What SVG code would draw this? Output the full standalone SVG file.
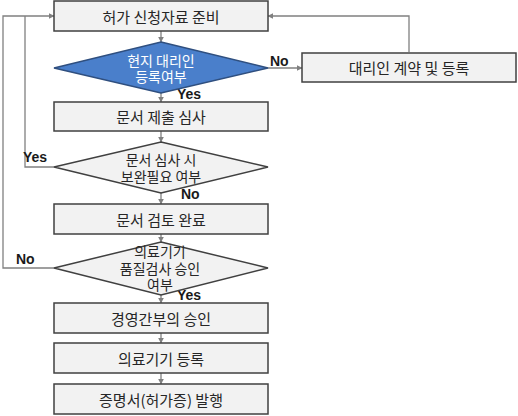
<svg xmlns="http://www.w3.org/2000/svg" width="518" height="416" viewBox="0 0 518 416">
<style>
.box{fill:#f2f2f2;stroke:#404040;stroke-width:1.5}
.dia{fill:#f2f2f2;stroke:#404040;stroke-width:1.5}
.blue{fill:#4a7fcb;stroke:#2f4f7f;stroke-width:1.5}
.t{font-family:"Noto Sans CJK KR","Noto Sans",sans-serif;font-size:15px;fill:#262626;text-anchor:middle;dominant-baseline:central}
.d{font-size:14px}
.tw{fill:#ffffff}
.lbl{font-family:"Liberation Sans",Arial,sans-serif;font-size:14px;font-weight:bold;fill:#1a1a1a}
.c{fill:none;stroke:#808080;stroke-width:1.3}
</style>
<defs>
<marker id="ah" viewBox="0 0 10 10" refX="9" refY="5" markerWidth="6" markerHeight="6" orient="auto" markerUnits="userSpaceOnUse">
<path d="M0,0 L10,5 L0,10 z" fill="#808080"/>
</marker>
</defs>
<g id="connectors">
<path class="c" d="M161,31 V42" marker-end="url(#ah)"/>
<path class="c" d="M161,93 V102" marker-end="url(#ah)"/>
<path class="c" d="M268,68 H302" marker-end="url(#ah)"/>
<path class="c" d="M409,52 V16 H268" marker-end="url(#ah)"/>
<path class="c" d="M161,131 V142" marker-end="url(#ah)"/>
<path class="c" d="M54,167 H25 V16"/>
<path class="c" d="M54,268 H3 V16 H54" marker-end="url(#ah)"/>
<path class="c" d="M161,193 V204" marker-end="url(#ah)"/>
<path class="c" d="M161,234 V242" marker-end="url(#ah)"/>
<path class="c" d="M161,295 V303" marker-end="url(#ah)"/>
<path class="c" d="M161,333 V343" marker-end="url(#ah)"/>
<path class="c" d="M161,373 V384" marker-end="url(#ah)"/>
<text class="lbl" x="270" y="66">No</text>
<text class="lbl" x="177" y="99">Yes</text>
<text class="lbl" x="23" y="162">Yes</text>
<text class="lbl" x="181" y="199">No</text>
<text class="lbl" x="16" y="264">No</text>
<text class="lbl" x="177" y="300">Yes</text>
</g>
<g id="n1"><rect class="box" x="54" y="1" width="214" height="30"/><text class="t" x="161" y="16">허가 신청자료 준비</text></g>
<g id="n2"><polygon class="blue" points="161,42 268,68 161,93 54,68"/><text class="t d tw" x="161" y="60">현지 대리인</text><text class="t d tw" x="161" y="76">등록여부</text></g>
<g id="n3"><rect class="box" x="302" y="53" width="214" height="29"/><text class="t" x="409" y="67">대리인 계약 및 등록</text></g>
<g id="n4"><rect class="box" x="54" y="102" width="214" height="29"/><text class="t" x="161" y="116">문서 제출 심사</text></g>
<g id="n5"><polygon class="dia" points="161,142 268,167 161,193 54,167"/><text class="t d" x="161" y="159">문서 심사 시</text><text class="t d" x="161" y="176">보완필요 여부</text></g>
<g id="n6"><rect class="box" x="54" y="204" width="214" height="30"/><text class="t" x="161" y="219">문서 검토 완료</text></g>
<g id="n7"><polygon class="dia" points="161,242 268,268 161,295 54,268"/><text class="t d" x="160" y="251">의료기기</text><text class="t d" x="160" y="268">품질검사 승인</text><text class="t d" x="160" y="284">여부</text></g>
<g id="n8"><rect class="box" x="54" y="303" width="214" height="30"/><text class="t" x="161" y="318">경영간부의 승인</text></g>
<g id="n9"><rect class="box" x="54" y="343" width="214" height="30"/><text class="t" x="161" y="358">의료기기 등록</text></g>
<g id="n10"><rect class="box" x="54" y="384" width="214" height="30"/><text class="t" x="161" y="399">증명서(허가증) 발행</text></g>
</svg>
